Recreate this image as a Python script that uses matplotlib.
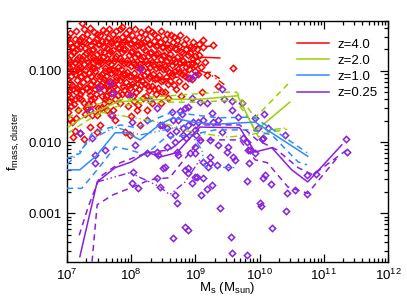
import numpy as np
import matplotlib
matplotlib.use("Agg")
import matplotlib.pyplot as plt
from matplotlib.ticker import LogLocator, FixedLocator, FuncFormatter, NullFormatter

plt.rcParams['font.family'] = ['Liberation Sans', 'DejaVu Sans']
plt.rcParams['mathtext.fontset'] = 'custom'
plt.rcParams['mathtext.rm'] = 'Liberation Sans'
plt.rcParams['mathtext.it'] = 'Liberation Sans:italic'

# colours of the four redshifts
c_z4 = '#ff0000'
c_z2 = '#99d100'
c_z1 = '#2b8cff'
c_z025 = '#8b1fe0'

# scatter points, (log10 Ms, log10 f)
red_pts = [
    (7.02, -0.52), (7.05, -0.61), (7.01, -0.70), (7.07, -0.78), (7.03, -0.85), (7.08, -0.93), (7.02, -1.00),
    (7.06, -1.08), (7.04, -1.17), (7.09, -1.25), (7.01, -1.33), (7.05, -1.42), (7.08, -0.66), (7.03, -0.95), (7.07, -1.50),
    (7.12, -0.55), (7.15, -0.63), (7.11, -0.74), (7.18, -0.80), (7.13, -0.88), (7.17, -0.97), (7.12, -1.05),
    (7.16, -1.13), (7.19, -1.21), (7.14, -1.30), (7.18, -1.38), (7.11, -1.46), (7.16, -0.70), (7.19, -1.02), (7.13, -1.84),
    (7.23, -0.33), (7.24, -0.52), (7.27, -0.60), (7.21, -0.68), (7.29, -0.75), (7.23, -0.84), (7.26, -0.91),
    (7.28, -0.99), (7.22, -1.07), (7.25, -1.16), (7.29, -1.24), (7.21, -1.32), (7.27, -1.45), (7.20, -1.87), (7.28, -1.60),
    (7.31, -0.49), (7.34, -0.57), (7.38, -0.64), (7.32, -0.72), (7.36, -0.80), (7.33, -0.87), (7.39, -0.95),
    (7.35, -1.03), (7.31, -1.11), (7.37, -1.19), (7.34, -1.28), (7.38, -1.40), (7.32, -1.52), (7.36, -1.79), (7.08, -1.72),
    (7.42, -0.45), (7.45, -0.55), (7.48, -0.62), (7.41, -0.69), (7.46, -0.77), (7.43, -0.85), (7.49, -0.92),
    (7.44, -1.00), (7.47, -1.08), (7.41, -1.15), (7.48, -1.23), (7.45, -1.32), (7.42, -1.38), (7.47, -1.62), (7.49, -1.52),
    (7.52, -0.50), (7.55, -0.58), (7.58, -0.66), (7.51, -0.73), (7.56, -0.81), (7.53, -0.89), (7.59, -0.96),
    (7.54, -1.04), (7.57, -1.12), (7.52, -1.20), (7.58, -1.27), (7.55, -1.35), (7.51, -1.76), (7.57, -1.45),
    (7.61, -0.46), (7.64, -0.54), (7.68, -0.61), (7.62, -0.68), (7.66, -0.76), (7.63, -0.84), (7.69, -0.91),
    (7.65, -0.99), (7.61, -1.07), (7.67, -1.14), (7.64, -1.22), (7.68, -1.31), (7.62, -1.55), (7.66, -1.42),
    (7.72, -0.48), (7.75, -0.56), (7.78, -0.63), (7.71, -0.71), (7.76, -0.79), (7.73, -0.86), (7.79, -0.94),
    (7.74, -1.02), (7.77, -1.09), (7.72, -1.17), (7.78, -1.25), (7.75, -1.40), (7.75, -1.69),
    (7.82, -0.41), (7.85, -0.52), (7.88, -0.59), (7.81, -0.66), (7.86, -0.74), (7.83, -0.82), (7.89, -0.89),
    (7.84, -0.97), (7.87, -1.05), (7.82, -1.13), (7.88, -1.21), (7.85, -1.33), (7.90, -1.86),
    (7.92, -0.47), (7.95, -0.55), (7.98, -0.62), (7.91, -0.70), (7.96, -0.78), (7.93, -0.85), (7.99, -0.93),
    (7.94, -1.01), (7.97, -1.08), (7.92, -1.16), (7.98, -1.24), (7.95, -1.50), (7.98, -1.90),
    (8.02, -0.50), (8.05, -0.57), (8.08, -0.65), (8.01, -0.72), (8.06, -0.80), (8.03, -0.87), (8.09, -0.95),
    (8.04, -1.03), (8.07, -1.11), (8.02, -1.19), (8.08, -1.30), (8.05, -1.42),
    (8.12, -0.53), (8.15, -0.61), (8.18, -0.68), (8.11, -0.76), (8.16, -0.84), (8.13, -0.91), (8.19, -0.99),
    (8.14, -1.07), (8.17, -1.15), (8.12, -1.25), (8.18, -1.38), (8.14, -1.76),
    (8.22, -0.48), (8.25, -0.56), (8.28, -0.63), (8.21, -0.71), (8.26, -0.79), (8.23, -0.86), (8.29, -0.94),
    (8.24, -1.02), (8.27, -1.10), (8.22, -1.18), (8.28, -1.27), (8.25, -1.55),
    (8.32, -0.46), (8.35, -0.58), (8.38, -0.65), (8.31, -0.73), (8.36, -0.81), (8.33, -0.88), (8.39, -0.96),
    (8.34, -1.04), (8.37, -1.12), (8.32, -1.21), (8.38, -1.33),
    (8.42, -0.52), (8.45, -0.60), (8.48, -0.67), (8.41, -0.75), (8.46, -0.83), (8.43, -0.90), (8.49, -0.98),
    (8.44, -1.06), (8.47, -1.14), (8.42, -1.24), (8.46, -1.45),
    (8.52, -0.55), (8.55, -0.63), (8.58, -0.70), (8.51, -0.78), (8.56, -0.86), (8.53, -0.93), (8.59, -1.01),
    (8.54, -1.09), (8.57, -1.18), (8.53, -1.30),
    (8.62, -0.50), (8.65, -0.60), (8.68, -0.68), (8.61, -0.76), (8.66, -0.84), (8.63, -0.92), (8.69, -1.00),
    (8.64, -1.08), (8.67, -1.20),
    (8.72, -0.57), (8.75, -0.65), (8.78, -0.73), (8.71, -0.81), (8.76, -0.89), (8.73, -0.97), (8.79, -1.05),
    (8.74, -1.15), (8.77, -1.35),
    (8.82, -0.62), (8.85, -0.70), (8.88, -0.78), (8.81, -0.86), (8.86, -0.94), (8.83, -1.02), (8.89, -1.10),
    (8.84, -1.22),
    (8.96, -0.60), (8.96, -0.68), (8.92, -0.75), (8.97, -0.83), (8.94, -0.91), (8.99, -1.00), (8.95, -1.12),
    (9.03, -0.70), (9.06, -0.78), (9.02, -0.86), (9.08, -0.95), (9.04, -1.05), (9.10, -1.30),
    (9.12, -0.57), (9.12, -0.67), (9.15, -0.88), (9.27, -0.64), (9.18, -1.06), (9.35, -1.21), (9.59, -0.96),
]

# second batch of red points filling the dense cloud
red_pts_fill = [
    (7.04, -0.47), (7.00, -0.57), (7.09, -0.73), (7.05, -0.88), (7.00, -1.12), (7.08, -1.20), (7.03, -1.29),
    (7.06, -1.38), (7.02, -1.58), (7.05, -1.68), (7.09, -1.93),
    (7.14, -0.44), (7.19, -0.58), (7.10, -0.66), (7.15, -0.84), (7.18, -0.92), (7.11, -1.00), (7.15, -1.24),
    (7.12, -1.40), (7.17, -1.55), (7.14, -1.66),
    (7.26, -0.42), (7.21, -0.56), (7.28, -0.68), (7.25, -0.79), (7.20, -0.95), (7.27, -1.04), (7.24, -1.28),
    (7.22, -1.39), (7.29, -1.52), (7.26, -1.96),
    (7.36, -0.40), (7.30, -0.61), (7.39, -0.71), (7.34, -0.92), (7.38, -1.07), (7.31, -1.24), (7.36, -1.34),
    (7.33, -1.46), (7.39, -1.62),
    (7.47, -0.49), (7.43, -0.59), (7.40, -0.81), (7.49, -0.86), (7.42, -0.96), (7.47, -1.17), (7.44, -1.26),
    (7.40, -1.46), (7.46, -1.86),
    (7.56, -0.43), (7.50, -0.62), (7.57, -0.74), (7.53, -0.85), (7.59, -1.00), (7.51, -1.08), (7.56, -1.16),
    (7.59, -1.40), (7.53, -1.52),
    (7.66, -0.41), (7.60, -0.58), (7.67, -0.72), (7.64, -0.88), (7.69, -1.03), (7.62, -1.18), (7.66, -1.27),
    (7.60, -1.36), (7.68, -1.62),
    (7.76, -0.44), (7.70, -0.60), (7.79, -0.68), (7.74, -0.82), (7.70, -0.98), (7.77, -1.13), (7.73, -1.21),
    (7.79, -1.34), (7.72, -1.55),
    (7.86, -0.38), (7.80, -0.56), (7.88, -0.70), (7.84, -0.86), (7.80, -1.01), (7.86, -1.09), (7.89, -1.27),
    (7.83, -1.45),
    (7.96, -0.43), (7.90, -0.58), (7.99, -0.74), (7.94, -0.89), (7.90, -1.04), (7.96, -1.20), (7.93, -1.32),
    (7.99, -1.64),
    (8.06, -0.42), (8.00, -0.61), (8.09, -0.76), (8.04, -0.91), (8.00, -1.07), (8.06, -1.23), (8.03, -1.35),
    (8.09, -1.55),
    (8.16, -0.45), (8.10, -0.64), (8.19, -0.80), (8.14, -0.95), (8.10, -1.11), (8.16, -1.20), (8.11, -1.48),
    (8.26, -0.42), (8.20, -0.60), (8.29, -0.75), (8.24, -0.90), (8.20, -1.06), (8.26, -1.22), (8.23, -1.36),
    (8.36, -0.49), (8.30, -0.63), (8.39, -0.77), (8.34, -0.92), (8.30, -1.08), (8.36, -1.25), (8.33, -1.45),
    (8.46, -0.44), (8.40, -0.64), (8.49, -0.79), (8.44, -0.94), (8.40, -1.10), (8.48, -1.30),
    (8.56, -0.48), (8.50, -0.66), (8.59, -0.82), (8.54, -0.97), (8.50, -1.13), (8.58, -1.38),
    (8.66, -0.53), (8.60, -0.68), (8.69, -0.88), (8.64, -1.03), (8.60, -1.15),
    (8.76, -0.50), (8.70, -0.70), (8.79, -0.85), (8.74, -1.02), (8.70, -1.25),
    (8.86, -0.55), (8.80, -0.75), (8.89, -0.90), (8.84, -1.07),
    (8.91, -0.66), (8.99, -0.79), (8.90, -0.97), (9.05, -0.62), (9.00, -0.92),
]

purple_pts = [
    (8.14, -0.98), (7.67, -1.17), (7.50, -1.24), (7.72, -1.31), (7.36, -1.55), (7.70, -1.62), (7.20, -1.87),
    (7.98, -1.34), (8.29, -1.41), (8.40, -1.52), (8.01, -1.72), (8.25, -1.69), (8.45, -1.76), (8.56, -1.80),
    (7.39, -1.94), (7.59, -2.11), (8.06, -2.04), (7.44, -2.18), (8.40, -2.14), (7.44, -2.29), (8.03, -2.42),
    (8.01, -2.58), (8.11, -2.65), (8.25, -2.15), (8.42, -2.18), (8.50, -2.36), (8.73, -2.18), (8.84, -2.39),
    (8.95, -2.58), (8.88, -2.43), (8.68, -2.74), (8.71, -2.86), (8.65, -3.35), (8.84, -3.19), (8.88, -3.23),
    (8.99, -2.15), (8.40, -2.50), (8.45, -2.63), (8.99, -2.49), (9.12, -2.50), (9.26, -2.60), (9.18, -2.66),
    (9.09, -2.74), (9.38, -2.93), (9.55, -3.33), (9.57, -3.56), (9.80, -3.58), (10.01, -2.86), (10.02, -2.90),
    (9.80, -2.55), (9.83, -2.29), (9.23, -2.29), (9.34, -2.32), (9.51, -2.35), (9.62, -2.25), (10.08, -2.46),
    (8.53, -2.35), (9.59, -2.21), (9.85, -2.11), (9.93, -2.15), (10.05, -2.50), (10.18, -2.59), (10.43, -2.72),
    (10.55, -2.67), (10.74, -2.73), (10.41, -2.97), (10.19, -3.21), (10.74, -2.46), (10.88, -2.45), (11.36, -2.14),
    (10.07, -1.61), (10.13, -1.80), (10.40, -1.90), (10.05, -1.94), (11.35, -1.96), (9.41, -1.26), (9.07, -1.44),
    (9.18, -1.45), (8.88, -1.51), (8.95, -1.38), (9.45, -1.40), (9.57, -1.43), (9.73, -1.45), (9.26, -1.59),
    (9.27, -1.72), (9.04, -1.72), (8.99, -1.83), (8.88, -1.76), (9.35, -1.69), (9.57, -1.55), (9.66, -1.65),
    (9.41, -1.86), (9.23, -1.97), (9.07, -1.97), (8.99, -2.07), (8.92, -2.15), (9.35, -2.04), (9.51, -2.07),
    (9.80, -2.00), (10.04, -1.96), (9.82, -2.11), (9.12, -2.28), (9.20, -2.35), (8.88, -2.36), (9.02, -2.49),
    (8.48, -1.76), (8.60, -1.90), (8.96, -1.72), (9.12, -1.69), (8.81, -1.90), (8.68, -2.00), (8.56, -2.07),
    (9.74, -1.94), (9.93, -1.66), (9.98, -1.80), (9.49, -2.14), (9.23, -2.21), (8.71, -2.14), (8.99, -1.06),
    (8.92, -1.10), (8.76, -1.56), (8.79, -1.60), (8.84, -1.52), (8.64, -1.58), (8.73, -1.69), (8.81, -1.80),
    (8.70, -1.84), (8.85, -1.94), (9.01, -1.90), (8.65, -1.69),
]

# binned curves: solid = median, dashed = quartiles, dash-dot = mean (log10 Ms, log10 f)
z4_med = [(7.00, -0.88), (7.51, -0.85), (7.98, -0.88), (8.45, -0.88), (8.76, -0.92), (9.12, -0.81), (9.38, -0.82)]
z4_hi = [(7.00, -0.64), (7.98, -0.60), (8.92, -0.67), (9.31, -0.65)]
z4_lo = [(7.00, -1.27), (7.98, -1.20), (8.92, -1.06), (9.23, -1.02), (9.41, -1.13)]
z4_mean = [(7.00, -0.99), (7.98, -0.96), (8.84, -0.92), (9.23, -1.05), (9.46, -1.20)]

z2_med = [(7.02, -1.79), (7.31, -1.62), (7.51, -1.55), (7.78, -1.44), (8.14, -1.41), (8.71, -1.40),
          (9.07, -1.40), (9.66, -1.35), (9.93, -1.85), (10.47, -1.44)]
z2_hi = [(7.02, -1.67), (7.25, -1.51), (7.78, -1.41), (8.29, -1.37), (9.07, -1.32), (9.38, -1.30),
         (9.64, -1.30), (9.93, -1.66), (10.47, -1.16)]
z2_lo = [(7.02, -1.87), (7.40, -1.65), (7.72, -1.51), (8.14, -1.45), (8.65, -1.44), (9.07, -1.44),
         (9.62, -1.41), (9.85, -1.69), (9.98, -1.93), (10.13, -1.87), (10.43, -1.82)]
z2_mean = [(7.51, -1.58), (7.98, -1.65), (8.25, -1.69), (8.60, -1.76), (8.76, -1.83), (9.26, -1.90),
           (9.51, -1.93), (9.85, -1.90), (10.16, -1.83), (10.43, -1.80)]

z1_med = [(7.00, -2.39), (7.20, -2.39), (7.45, -2.20), (7.75, -1.87), (7.93, -1.87), (8.14, -1.97),
          (8.45, -1.75), (8.65, -1.66), (8.96, -1.72), (9.31, -1.75), (9.93, -1.72), (10.75, -2.20)]
z1_hi = [(7.00, -2.23), (7.20, -2.16), (7.40, -1.86), (7.83, -1.76), (8.09, -1.80), (8.45, -1.65),
         (8.65, -1.58), (8.99, -1.62), (9.35, -1.66), (9.90, -1.65), (10.27, -1.86), (10.74, -2.15)]
z1_lo = [(7.00, -2.65), (7.23, -2.65), (7.47, -2.39), (7.75, -2.07), (7.98, -2.11), (8.22, -2.18),
         (8.53, -1.94), (8.92, -1.90), (9.31, -1.83), (9.88, -1.83), (10.19, -1.90), (10.60, -2.28), (10.74, -2.32)]
z1_mean = [(7.00, -2.32), (7.36, -1.97), (7.75, -1.79), (8.14, -1.90), (8.53, -1.83), (8.84, -1.76),
           (9.10, -2.11), (9.15, -2.35), (9.62, -2.36)]

z025_med = [(7.20, -3.61), (7.47, -2.56), (7.75, -2.36), (8.00, -2.28), (8.25, -2.14), (8.45, -2.21),
            (8.71, -2.15), (9.07, -1.79), (9.69, -1.80), (9.93, -2.14), (10.19, -2.08), (10.50, -2.39),
            (10.75, -2.56), (11.28, -2.04)]
z025_hi = [(7.19, -3.31), (7.33, -2.91), (7.51, -2.49), (7.83, -2.29), (8.25, -2.15), (8.60, -2.11),
           (9.07, -1.76), (9.69, -1.76), (9.96, -1.97), (10.27, -2.11), (10.60, -2.36), (10.83, -2.46), (11.36, -2.11)]
z025_lo = [(7.39, -3.68), (7.47, -2.88), (7.72, -2.74), (8.03, -2.63), (8.29, -2.53), (8.60, -2.50),
           (9.07, -1.97), (9.69, -1.97), (9.93, -2.25), (10.12, -2.29), (10.44, -2.63), (10.75, -2.72), (11.22, -2.21)]
z025_mean = [(7.47, -2.56), (7.98, -2.43), (8.45, -2.63), (8.60, -2.74), (8.84, -2.56), (9.07, -2.25)]

labels = ['z=4.0', 'z=2.0', 'z=1.0', 'z=0.25']

fig = plt.figure(figsize=(4.07, 3.06), dpi=100)
ax = fig.add_axes([67 / 407, 1 - 262 / 306, 321 / 407, 241 / 306])


def xy(pts):
    a = np.array(pts)
    return 10 ** a[:, 0], 10 ** a[:, 1]


rx, ry = xy(red_pts + red_pts_fill)
ax.plot(rx, ry, 'D', ms=3.2, mew=1.1, mfc='none', mec=c_z4, ls='none', zorder=2)
px, py = xy(purple_pts)
ax.plot(px, py, 'D', ms=3.2, mew=1.1, mfc='none', mec=c_z025, ls='none', zorder=3)

dashdot = (0, (5, 2, 1, 2, 1, 2, 1, 2))
sets = [(z4_med, z4_hi, z4_lo, z4_mean, c_z4),
        (z2_med, z2_hi, z2_lo, z2_mean, c_z2),
        (z1_med, z1_hi, z1_lo, z1_mean, c_z1),
        (z025_med, z025_hi, z025_lo, z025_mean, c_z025)]
for i, ((med, hi, lo, mean, col), lab) in enumerate(zip(sets, labels)):
    zo = 1 if i == 0 else 4
    ax.plot(*xy(med), color=col, lw=1.1, label=lab, zorder=zo)
    ax.plot(*xy(hi), color=col, lw=1.1, ls=(0, (4, 3)), zorder=zo)
    ax.plot(*xy(lo), color=col, lw=1.1, ls=(0, (4, 3)), zorder=zo)
    ax.plot(*xy(mean), color=col, lw=1.0, ls=dashdot, zorder=zo)

ax.set_xscale('log')
ax.set_yscale('log')
ax.set_xlim(1e7, 1e12)
ax.set_ylim(2.07e-4, 0.5)

ax.yaxis.set_major_locator(FixedLocator([0.001, 0.01, 0.1]))
ax.yaxis.set_major_formatter(FuncFormatter(lambda v, p: '%.3f' % v))
ax.yaxis.set_minor_locator(LogLocator(base=10, subs=np.arange(2, 10), numticks=20))
ax.yaxis.set_minor_formatter(NullFormatter())
ax.xaxis.set_minor_locator(LogLocator(base=10, subs=np.arange(2, 10), numticks=20))
ax.xaxis.set_minor_formatter(NullFormatter())

ax.tick_params(which='both', direction='in', top=True, right=True, width=0.9, labelsize=9.5)
ax.tick_params(which='major', length=5.5, pad=4)
ax.tick_params(which='minor', length=3)
for s in ax.spines.values():
    s.set_linewidth(1.0)

ax.set_xlabel(r'M$_{\mathrm{s}}$ (M$_{\mathrm{sun}}$)', fontsize=9.5)
ax.set_ylabel(r'f$_{\mathrm{mass,cluster}}$', fontsize=9.5)
ax.xaxis.set_label_coords(0.5, -0.075)
ax.yaxis.set_label_coords(-0.14, 0.5)

leg = ax.legend(loc='upper left', bbox_to_anchor=(0.7165, 0.928), frameon=False, fontsize=9.5,
                handlelength=2.4, handletextpad=0.7, labelspacing=0.3, borderpad=0, borderaxespad=0)

fig.savefig('out.png', dpi=100)
